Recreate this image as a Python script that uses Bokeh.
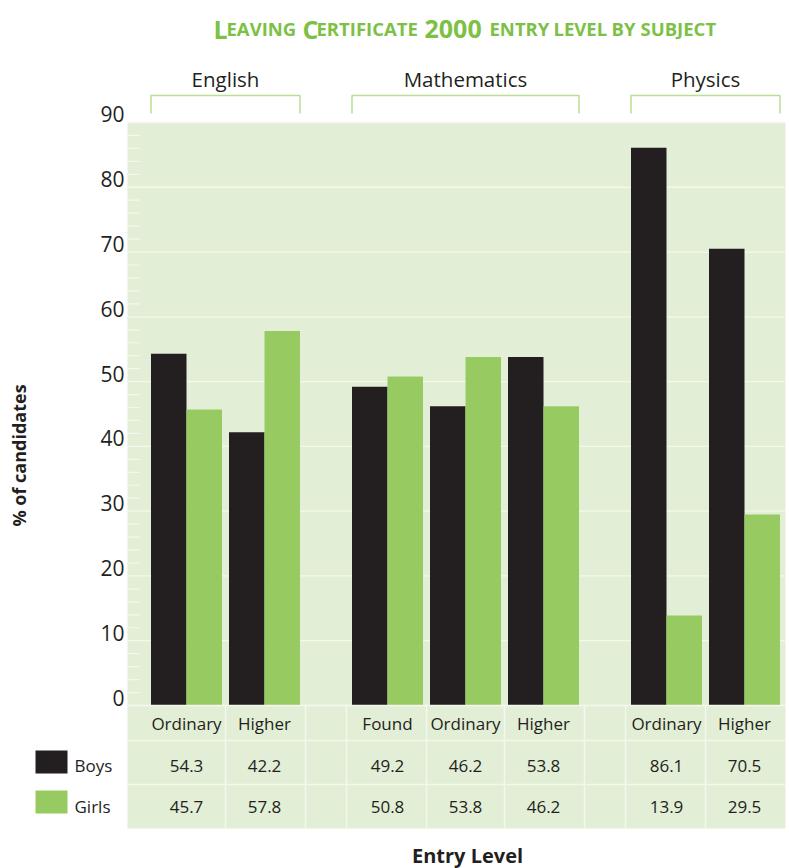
from bokeh.plotting import figure
from bokeh.models import Range1d
from bokeh.core.properties import value
from bokeh.embed import file_html
from bokeh.resources import INLINE
import math

# ---------------- data ----------------
subjects = ["English", "Mathematics", "Physics"]
levels = [["Ordinary", "Higher"], ["Found", "Ordinary", "Higher"], ["Ordinary", "Higher"]]
boys = [54.3, 42.2, 49.2, 46.2, 53.8, 86.1, 70.5]
girls = [45.7, 57.8, 50.8, 53.8, 46.2, 13.9, 29.5]
series_names = ["Boys", "Girls"]
y_ticks = [0, 10, 20, 30, 40, 50, 60, 70, 80, 90]
# title written in small caps: (text, is_big_capital)
title_parts = [("L", True), ("EAVING", False), ("C", True), ("ERTIFICATE", False),
               ("2000", True), ("ENTRY", False), ("LEVEL", False), ("BY", False),
               ("SUBJECT", False)]
y_title = "% of candidates"
x_title = "Entry Level"

# ---------------- style ----------------
W, H = 789, 868
DARK = "#231f20"
GREEN = "#97cb62"
BG = "#e2eed6"
LINE = "#f3f8ec"
TITLE_GREEN = "#7cc145"
BRACKET = "#b9df95"
FONT = value("Open Sans")

PX_PER_UNIT = 6.478
ZERO_PY = 705.0


def Y(py):
    return (ZERO_PY - py) / PX_PER_UNIT


p = figure(width=W, height=H, x_range=Range1d(0, W), y_range=Range1d(Y(H), Y(0)),
           output_backend="svg", toolbar_location=None, min_border=0,
           x_axis_location=None, y_axis_location=None)
p.grid.visible = False
p.outline_line_color = None
p.background_fill_color = "white"
p.border_fill_color = "white"

# layout of bar slots
STEP, GAP, X0 = 78.0, 45.0, 186.0
BAR_W = 35.5
centers, groups_idx = [], []
k = 0
for g, lv in enumerate(levels):
    for _ in lv:
        centers.append(X0 + STEP * k + GAP * g)
        groups_idx.append(g)
        k += 1
flat_levels = [l for lv in levels for l in lv]

PLOT_L, PLOT_R = 127, 785
TABLE_BOTTOM = 828
ROW1, ROW2 = 740, 784

# background
p.quad(left=[PLOT_L], right=[PLOT_R], bottom=[Y(TABLE_BOTTOM)], top=[max(y_ticks)],
       fill_color=BG, line_color=None)

# gridlines
p.segment(x0=[PLOT_L] * len(y_ticks), x1=[PLOT_R] * len(y_ticks), y0=y_ticks, y1=y_ticks,
          line_color=LINE, line_width=1.3)
# minor ticks
minor = [v for v in range(0, max(y_ticks), 2) if v % 10 != 0]
p.segment(x0=[PLOT_L] * len(minor), x1=[PLOT_L + 12] * len(minor), y0=minor, y1=minor,
          line_color=LINE, line_width=1.2)

# bars
p.vbar(x=[c - BAR_W / 2 for c in centers], width=BAR_W, top=boys, bottom=0,
       fill_color=DARK, line_color=None)
p.vbar(x=[c + BAR_W / 2 for c in centers], width=BAR_W, top=girls, bottom=0,
       fill_color=GREEN, line_color=None)

# y tick labels (drawn slightly above their gridlines)
p.text(x=[124] * len(y_ticks), y=[t + 8 / PX_PER_UNIT for t in y_ticks],
       text=[str(t) for t in y_ticks], text_font=FONT, text_font_size="21px",
       text_color=DARK, text_align="right", text_baseline="middle")

# brackets and subject labels
for g, s in enumerate(subjects):
    cs = [c for c, gi in zip(centers, groups_idx) if gi == g]
    l, r = min(cs) - BAR_W, max(cs) + BAR_W
    p.line(x=[l, l, r, r], y=[Y(113), Y(95), Y(95), Y(113)], line_color=BRACKET, line_width=1.5)
    p.text(x=[(l + r) / 2], y=[Y(78)], text=[s], text_font=FONT, text_font_size="20.5px",
           text_color=DARK, text_align="center", text_baseline="middle")

# table lines
p.segment(x0=[PLOT_L] * 3, x1=[PLOT_R] * 3, y0=[0, Y(ROW1), Y(ROW2)], y1=[0, Y(ROW1), Y(ROW2)],
          line_color=LINE, line_width=1.5)
seps = []
for i in range(len(centers) - 1):
    if groups_idx[i] == groups_idx[i + 1]:
        seps.append((centers[i] + centers[i + 1]) / 2)
    else:
        seps.append(centers[i] + 41)
        seps.append(centers[i + 1] - 41)
p.segment(x0=seps, x1=seps, y0=[0] * len(seps), y1=[Y(TABLE_BOTTOM)] * len(seps),
          line_color=LINE, line_width=1.5)

# table text
p.text(x=centers, y=[Y(723)] * len(centers), text=flat_levels, text_font=FONT,
       text_font_size="17px", text_color=DARK, text_align="center", text_baseline="middle")
p.text(x=centers, y=[Y(765)] * len(centers), text=[f"{v:.1f}" for v in boys], text_font=FONT,
       text_font_size="17px", text_color=DARK, text_align="center", text_baseline="middle")
p.text(x=centers, y=[Y(806)] * len(centers), text=[f"{v:.1f}" for v in girls], text_font=FONT,
       text_font_size="17px", text_color=DARK, text_align="center", text_baseline="middle")

# legend swatches
p.quad(left=[35, 35], right=[67, 67], top=[Y(750), Y(790)], bottom=[Y(773), Y(813)],
       fill_color=[DARK, GREEN], line_color=None)
p.text(x=[74, 74], y=[Y(765), Y(806)], text=series_names, text_font=FONT, text_font_size="17px",
       text_color=DARK, text_align="left", text_baseline="middle")

# axis titles
p.text(x=[18], y=[Y(455)], text=[y_title], angle=math.pi / 2, text_font=FONT,
       text_font_size="18px", text_font_style="bold", text_color=DARK,
       text_align="center", text_baseline="middle")
p.text(x=[467], y=[Y(855)], text=[x_title], text_font=FONT, text_font_size="20px",
       text_font_style="bold", text_color=DARK, text_align="center", text_baseline="middle")

# title with small caps, each piece anchored at its own left edge
BIG, SMALL = 25.0, 18.5
title_x = [213, 226, 302, 316, 424, 489, 553, 611, 640]
for (txt, big), sx in zip(title_parts, title_x):
    size = BIG if big else SMALL
    p.text(x=[sx], y=[Y(28)], text=[txt], text_font=FONT,
           text_font_size=f"{size}px", text_font_style="bold",
           text_color=TITLE_GREEN, text_align="left", text_baseline="alphabetic")

open("out.html", "w").write(file_html(p, INLINE))
